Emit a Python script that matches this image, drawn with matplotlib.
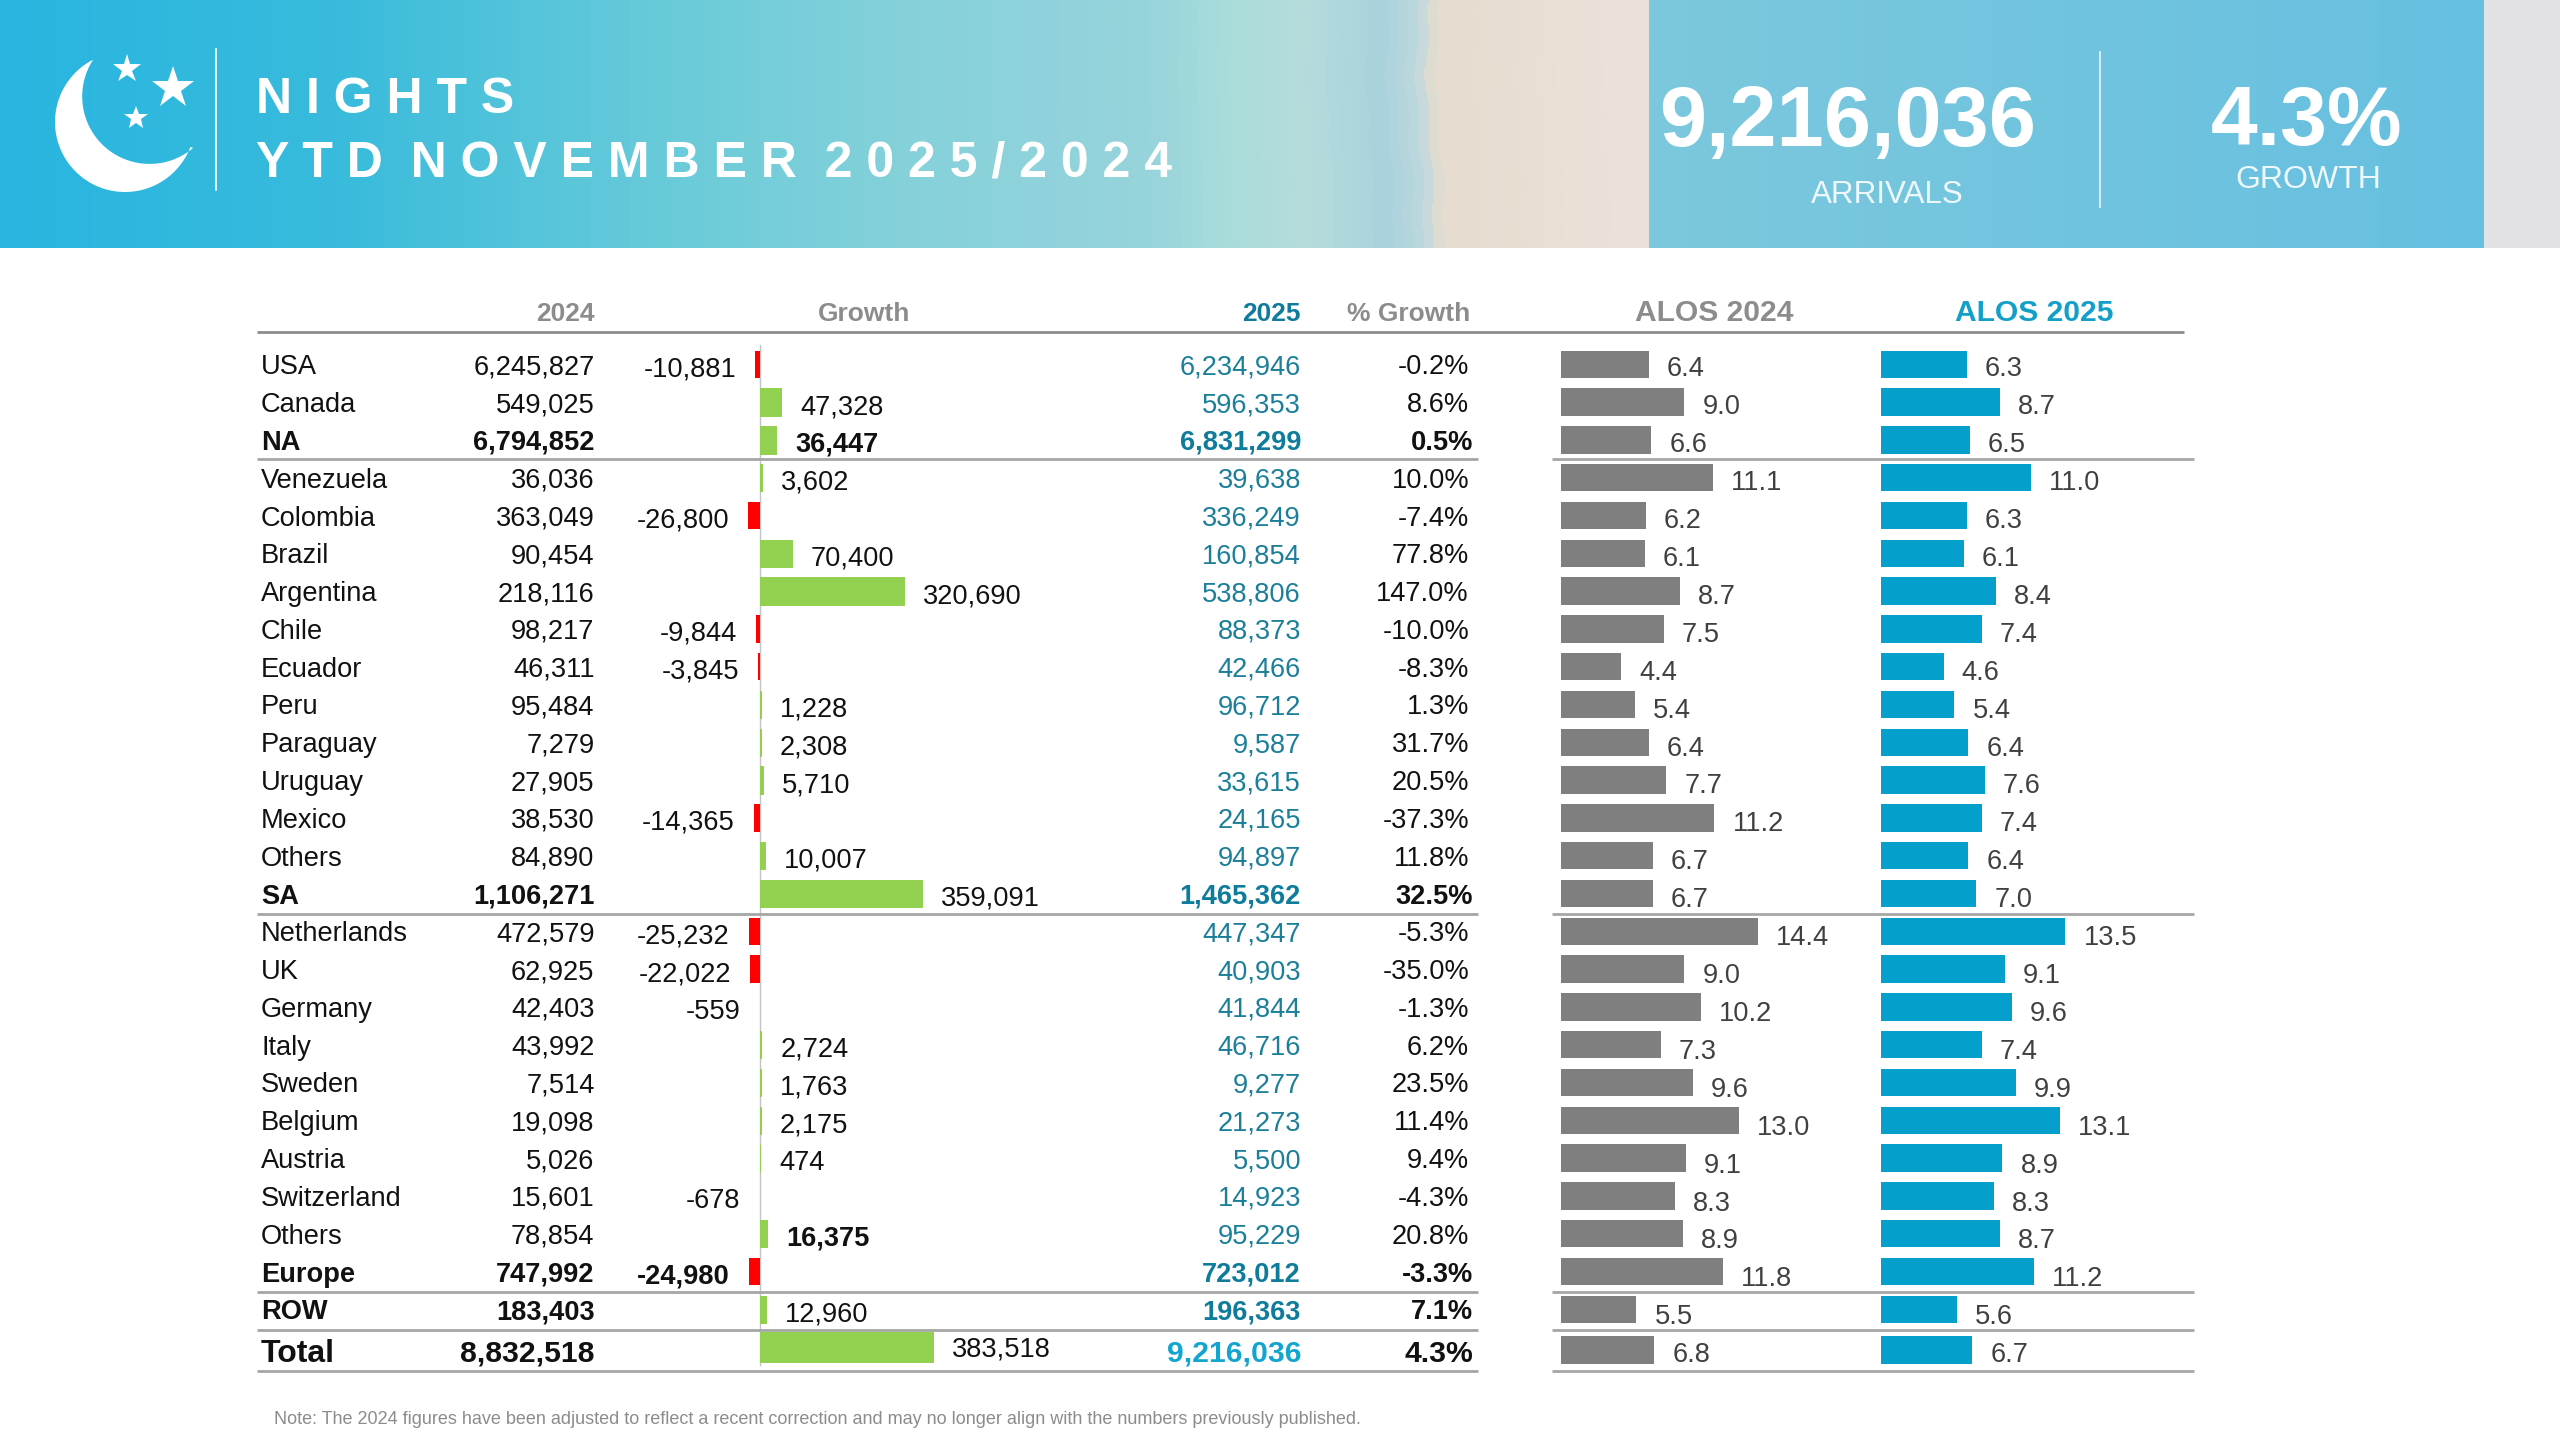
import numpy as np
import matplotlib
matplotlib.use("Agg")
import matplotlib.pyplot as plt
from matplotlib.colors import LinearSegmentedColormap
from matplotlib.path import Path
from matplotlib.patches import PathPatch, Rectangle

plt.rcParams['font.family'] = ['Liberation Sans', 'DejaVu Sans']

countries = ["USA","Canada","NA","Venezuela","Colombia","Brazil","Argentina","Chile","Ecuador","Peru",
             "Paraguay","Uruguay","Mexico","Others","SA","Netherlands","UK","Germany","Italy","Sweden",
             "Belgium","Austria","Switzerland","Others","Europe","ROW","Total"]
values_2024 = [6245827,549025,6794852,36036,363049,90454,218116,98217,46311,95484,7279,27905,38530,84890,
               1106271,472579,62925,42403,43992,7514,19098,5026,15601,78854,747992,183403,8832518]
growth = [-10881,47328,36447,3602,-26800,70400,320690,-9844,-3845,1228,2308,5710,-14365,10007,359091,
          -25232,-22022,-559,2724,1763,2175,474,-678,16375,-24980,12960,383518]
values_2025 = [6234946,596353,6831299,39638,336249,160854,538806,88373,42466,96712,9587,33615,24165,94897,
               1465362,447347,40903,41844,46716,9277,21273,5500,14923,95229,723012,196363,9216036]
pct_growth = [-0.2,8.6,0.5,10.0,-7.4,77.8,147.0,-10.0,-8.3,1.3,31.7,20.5,-37.3,11.8,32.5,-5.3,-35.0,-1.3,
              6.2,23.5,11.4,9.4,-4.3,20.8,-3.3,7.1,4.3]
alos_2024 = [6.4,9.0,6.6,11.1,6.2,6.1,8.7,7.5,4.4,5.4,6.4,7.7,11.2,6.7,6.7,14.4,9.0,10.2,7.3,9.6,13.0,9.1,8.3,8.9,11.8,5.5,6.8]
alos_2025 = [6.3,8.7,6.5,11.0,6.3,6.1,8.4,7.4,4.6,5.4,6.4,7.6,7.4,6.4,7.0,13.5,9.1,9.6,7.4,9.9,13.1,8.9,8.3,8.7,11.2,5.6,6.7]
bold_rows = ["NA","SA","Europe","ROW","Total"]
title_lines = ["N I G H T S", "Y T D  N O V E M B E R  2 0 2 5 / 2 0 2 4"]
note = "Note: The 2024 figures have been adjusted to reflect a recent correction and may no longer align with the numbers previously published."

W, H = 2560, 1440
fig = plt.figure(figsize=(25.6, 14.4), dpi=100, facecolor='white')
bg = fig.add_axes([0, 0, 1, 1])
bg.set_xlim(0, W); bg.set_ylim(H, 0); bg.axis('off')

# banner: horizontal colour ramp with a gently uneven shoreline
banner = LinearSegmentedColormap.from_list("b", [
    (0.00, "#29b5e0"), (0.13, "#38bbdc"), (0.26, "#69cbd9"), (0.35, "#84d1da"), (0.45, "#98d4dc"),
    (0.475, "#a6dcda"), (0.51, "#b6dcdc"), (0.54, "#a9d2dc"), (0.555, "#bdd8df"), (0.562, "#e6dccf"),
    (0.644, "#ebe3db"), (1, "#ebe3db")])
gx, gy = np.meshgrid(np.linspace(0, 1, 1600), np.arange(248))
ramp = gx + np.clip((gx - 0.40) * 8, 0, 1) * (0.0015 * np.sin(gy / 45) + 0.0006 * np.sin(gy / 11 + 1))
bg.imshow(ramp, cmap=banner, vmin=0, vmax=1, extent=(0, W, 248, 0), aspect='auto', zorder=0)
panel = LinearSegmentedColormap.from_list("p", ["#7cc8dd", "#66c0e0"])
bg.imshow(np.linspace(0, 1, 256)[None, :], cmap=panel, extent=(1649, 2484, 248, 0), aspect='auto', zorder=1)
bg.add_patch(Rectangle((2484, 0), 76, 248, fc="#e2e2e6", ec='none', zorder=1))
bg.set_xlim(0, W); bg.set_ylim(H, 0)

# moon logo
oc, orad = np.array([125., 122.]), 70.
ic, irad = np.array([149.6, 96.5]), 67.4
a0 = np.arctan2(60-oc[1], 93-oc[0]); a1 = np.arctan2(148-oc[1], 193-oc[0])
t_o = np.linspace(a0, a1 - 2*np.pi, 120)
b0 = np.arctan2(148-ic[1], 193-ic[0]); b1 = np.arctan2(60-ic[1], 93-ic[0])
t_i = np.linspace(b0, b1 + 2*np.pi, 120)
pts = np.vstack([np.c_[oc[0]+orad*np.cos(t_o), oc[1]+orad*np.sin(t_o)],
                 np.c_[ic[0]+irad*np.cos(t_i), ic[1]+irad*np.sin(t_i)]])
bg.add_patch(PathPatch(Path(np.vstack([pts, pts[0]]), closed=True), fc='white', ec='none', zorder=3))
for sx, sy, ms in [(127, 69, 21), (173, 88, 32), (136, 118, 18)]:
    bg.plot([sx], [sy], marker='*', ms=ms, mfc='white', mec='white', mew=0, zorder=3)
bg.plot([216, 216], [49, 190], color='white', lw=1.2, zorder=3)
bg.plot([2100, 2100], [52, 207], color='#e8f6fb', lw=1.2, zorder=3)

bg.text(256, 113, title_lines[0], color='white', fontsize=36, fontweight='bold', zorder=4)
bg.text(256, 176, title_lines[1], color='white', fontsize=36, fontweight='bold', zorder=4)
bg.text(1848, 124, f"{values_2025[-1]:,}", color='white', fontsize=61, fontweight='bold', ha='center', va='center', zorder=4)
bg.text(2307, 123, f"{pct_growth[-1]:.1f}%", color='white', fontsize=60.5, fontweight='bold', ha='center', va='center', zorder=4)
bg.text(1887, 195, "ARRIVALS", color='#eef8fb', fontsize=22.6, ha='center', va='center', zorder=4)
bg.text(2308, 180, "GROWTH", color='#eef8fb', fontsize=23, ha='center', va='center', zorder=4)

# headers
HB = 321
GR = '#8c8c8c'; TEAL = '#1b7f99'; TEAL_B = '#0e7c9a'; TEAL_T = '#12a5cf'
bg.text(594.5, HB, "2024", color=GR, fontsize=19, fontweight='bold', ha='right')
bg.text(864.5, HB, "Growth", color=GR, fontsize=19, fontweight='bold', ha='center')
bg.text(1301, HB, "2025", color=TEAL_B, fontsize=19, fontweight='bold', ha='right')
bg.text(1470, HB, "% Growth", color=GR, fontsize=19, fontweight='bold', ha='right')
bg.text(1714, HB, "ALOS 2024", color=GR, fontsize=21.6, fontweight='bold', ha='center')
bg.text(2034, HB, "ALOS 2025", color='#12a0c8', fontsize=21.6, fontweight='bold', ha='center')

# rules
bg.plot([257, 2184], [332, 332], color='#8c8c8c', lw=2, solid_capstyle='butt')
for ry in [459, 913.5, 1291.7, 1329.7, 1371]:
    bg.plot([257, 1478], [ry, ry], color='#a6a6a6', lw=2, solid_capstyle='butt')
    bg.plot([1552, 2194], [ry, ry], color='#a6a6a6', lw=2, solid_capstyle='butt')
bg.plot([760, 760], [345, 1365], color='#c4c4c4', lw=1, zorder=1)

# row centres in pixels
rows = 364.3 + 37.8 * np.arange(len(countries))
rows[-1] = 1350
R = 27.3
TXT = '#111111'

for i, name in enumerate(countries):
    b = name in bold_rows
    total = name == "Total"
    fw = 'bold' if b else 'normal'
    fs = 21.7 if total else 19.6
    base = rows[i] + (12 if total else 10)
    pad = 4 if b else 0
    bg.text(261, base, name, color=TXT, fontsize=23 if total else fs, fontweight=fw)
    bg.text(594.5, base, f"{values_2024[i]:,}", color=TXT, fontsize=fs, fontweight=fw, ha='right')
    bg.text(1301, base, f"{values_2025[i]:,}", color=TEAL_T if total else (TEAL_B if b else TEAL),
            fontsize=fs, fontweight=fw, ha='right')
    bg.text(1469 + pad, base, f"{pct_growth[i]:.1f}%", color=TXT, fontsize=fs, fontweight=fw, ha='right')

def column(x0, x1, xlim):
    ax = fig.add_axes([x0 / W, 1 - 1400 / H, (x1 - x0) / W, (1400 - 320) / H])
    ax.set_xlim(*xlim); ax.set_ylim(1400, 320)
    ax.patch.set_alpha(0); ax.axis('off')
    return ax

# growth bars : 0.00045 px per unit, zero at x=760
gpx = 0.00045
gax = column(680, 1040, ((680 - 760) / gpx, (1040 - 760) / gpx))
growth_heights = np.full(len(countries), R); growth_heights[-1] = 29.5
growth_y = rows.copy(); growth_y[-1] = 1347
gcolors = ['#92d050' if g >= 0 else '#ff0000' for g in growth]
gedge = [0.7 if g >= 0 else 0 for g in growth]
gax.barh(growth_y, growth, height=growth_heights, color=gcolors, edgecolor=gcolors, linewidth=gedge)
bold_growth = {2, 23, 24}
for i, g in enumerate(growth):
    dy = -7 if i == len(growth) - 1 else -12
    gax.annotate(f"{g:,}", xy=(g, rows[i]), xytext=(19 if g >= 0 else -19, dy), textcoords='offset pixels',
                 ha='left' if g >= 0 else 'right', va='baseline', fontsize=19.6,
                 fontweight='bold' if i in bold_growth else 'normal', color=TXT)

# ALOS bars : 13.7 px per night
apx = 13.7
for start, vals, col in [(1561, alos_2024, '#7f7f7f'), (1880.5, alos_2025, '#049fcb')]:
    ax = column(start, start + 300, (0, 300 / apx))
    ax.barh(rows, vals, height=R, color=col, linewidth=0)
    for i, v in enumerate(vals):
        dy = -12 - 0.12 * i if i < len(vals) - 1 else -12
        ax.annotate(f"{v:.1f}", xy=(v, rows[i]), xytext=(18, dy), textcoords='offset pixels',
                    ha='left', va='baseline', fontsize=19.6, color='#404040')

bg.text(274, 1424, note, color='#8c8c8c', fontsize=13.0)
fig.savefig("out.png", dpi=100, facecolor='white')
